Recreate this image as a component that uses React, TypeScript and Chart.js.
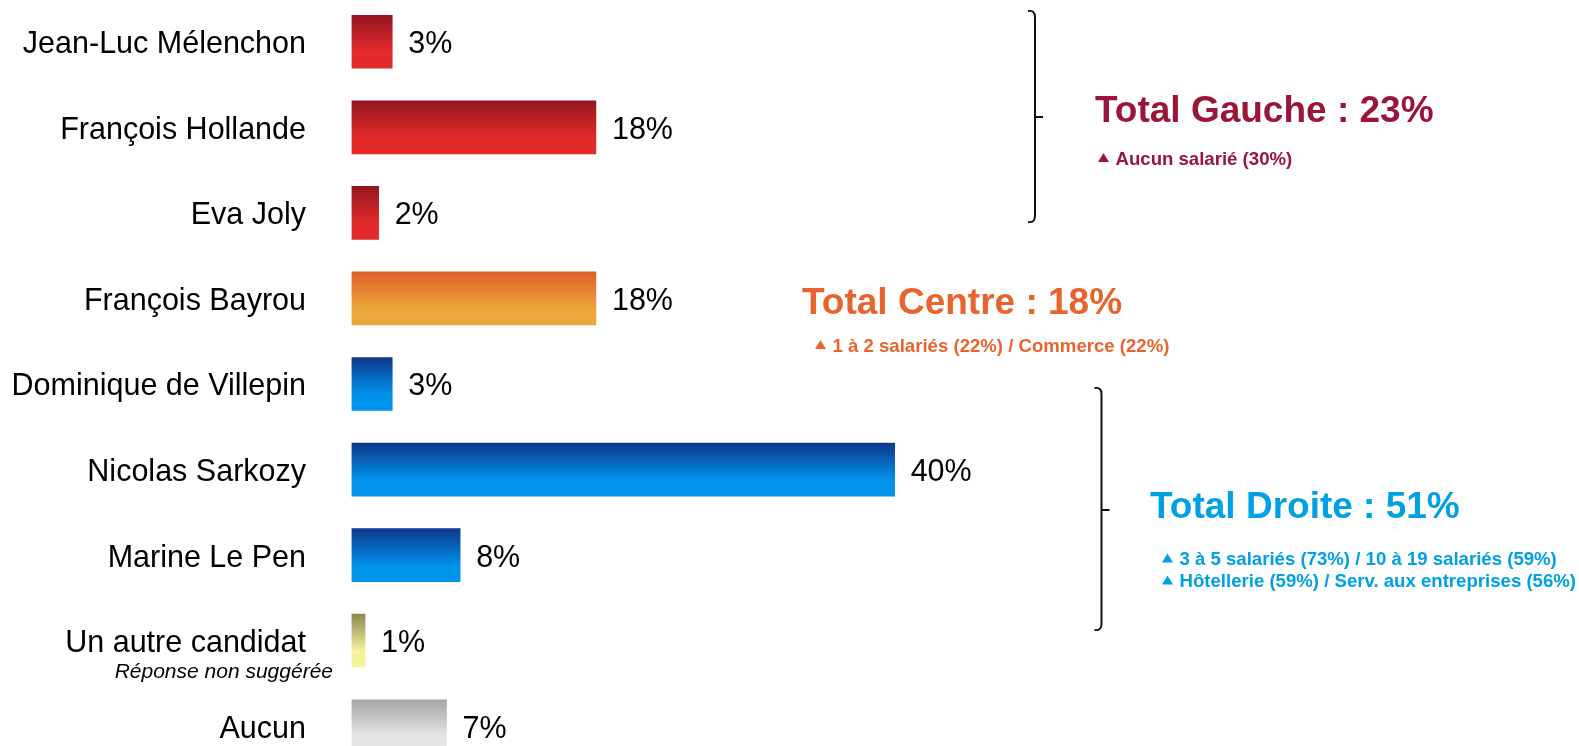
import React, { useEffect, useRef } from "react";
import { Chart, registerables } from "chart.js";

Chart.register(...registerables);

const categories = [
  "Jean-Luc Mélenchon",
  "François Hollande",
  "Eva Joly",
  "François Bayrou",
  "Dominique de Villepin",
  "Nicolas Sarkozy",
  "Marine Le Pen",
  "Un autre candidat",
  "Aucun",
];
const subLabels = ["", "", "", "", "", "", "", "Réponse non suggérée", ""];
const values = [3, 18, 2, 18, 3, 40, 8, 1, 7];
const families = ["gauche", "gauche", "gauche", "centre", "droite", "droite", "droite", "autre", "aucun"];

const familyGradients: Record<string, [string, string]> = {
  gauche: ["#93161f", "#e32b2c"],
  centre: ["#df5f29", "#eba63c"],
  droite: ["#0d378a", "#0093ec"],
  autre: ["#8c874f", "#f4f39c"],
  aucun: ["#a6a6a6", "#e6e6e6"],
};

const totalsTitles = ["Total Gauche : 23%", "Total Centre : 18%", "Total Droite : 51%"];
const totalsColors = ["#9a1538", "#e8642c", "#00a0e4"];
const totalsDetails = [
  ["Aucun salarié (30%)"],
  ["1 à 2 salariés (22%) / Commerce (22%)"],
  ["3 à 5 salariés (73%) / 10 à 19 salariés (59%)", "Hôtellerie (59%) / Serv. aux entreprises (56%)"],
];

const FONT = "'Liberation Sans', Arial, Helvetica, sans-serif";

function triangle(ctx: CanvasRenderingContext2D, x: number, yMid: number, color: string) {
  ctx.fillStyle = color;
  ctx.beginPath();
  ctx.moveTo(x, yMid + 4.5);
  ctx.lineTo(x + 11, yMid + 4.5);
  ctx.lineTo(x + 5.5, yMid - 4.5);
  ctx.closePath();
  ctx.fill();
}

function brace(ctx: CanvasRenderingContext2D, x: number, top: number, mid: number, bottom: number) {
  ctx.strokeStyle = "#111";
  ctx.lineWidth = 2;
  ctx.beginPath();
  ctx.moveTo(x - 7, top);
  ctx.quadraticCurveTo(x, top - 1, x, top + 6);
  ctx.lineTo(x, bottom - 6);
  ctx.quadraticCurveTo(x, bottom + 1, x - 7, bottom);
  ctx.moveTo(x, mid);
  ctx.lineTo(x + 8, mid);
  ctx.stroke();
}

const labelsPlugin = {
  id: "labelsPlugin",
  afterDatasetsDraw(chart: any) {
    const ctx: CanvasRenderingContext2D = chart.ctx;
    const xs = chart.scales.x;
    const ys = chart.scales.y;
    ctx.save();
    ctx.textBaseline = "middle";
    categories.forEach((cat, i) => {
      const y = ys.getPixelForValue(i);
      ctx.fillStyle = "#000";
      ctx.font = `30.5px ${FONT}`;
      ctx.textAlign = "right";
      ctx.fillText(cat, 306, y + 3);
      if (subLabels[i]) {
        ctx.font = `italic 21px ${FONT}`;
        ctx.fillText(subLabels[i], 333, y + 31.5);
      }
      ctx.textAlign = "left";
      ctx.font = `30.5px ${FONT}`;
      ctx.fillText(`${values[i]}%`, xs.getPixelForValue(values[i]) + 16, y + 3);
    });

    brace(ctx, 1035, 12, 118, 223);
    brace(ctx, 1101.5, 389, 511, 631);

    const titlePos = [
      [1095, 112.5],
      [802, 304.5],
      [1150, 509],
    ];
    const detailPos = [
      [1098, 160.5],
      [815, 347.5],
      [1162, 561],
    ];
    totalsTitles.forEach((t, k) => {
      ctx.fillStyle = totalsColors[k];
      ctx.textAlign = "left";
      ctx.font = `bold 37px ${FONT}`;
      ctx.fillText(t, titlePos[k][0], titlePos[k][1]);
      ctx.font = `bold 18.6px ${FONT}`;
      totalsDetails[k].forEach((d, j) => {
        const yy = detailPos[k][1] + j * 22;
        triangle(ctx, detailPos[k][0], yy - 2, totalsColors[k]);
        ctx.fillStyle = totalsColors[k];
        ctx.fillText(d, detailPos[k][0] + 17.5, yy);
      });
    });
    ctx.restore();
  },
};

export default function App() {
  const ref = useRef<HTMLCanvasElement | null>(null);
  useEffect(() => {
    if (!ref.current) return;
    const chart = new Chart(ref.current, {
      type: "bar",
      data: {
        labels: categories,
        datasets: [
          {
            data: values,
            barThickness: 53,
            borderWidth: 0,
            backgroundColor: (c: any) => {
              const chart = c.chart;
              const fam = families[c.dataIndex] || "gauche";
              const [top, bottom] = familyGradients[fam];
              const ys = chart.scales?.y;
              if (!ys || !chart.chartArea || c.dataIndex === undefined) return bottom;
              const yc = ys.getPixelForValue(c.dataIndex);
              if (!Number.isFinite(yc)) return bottom;
              const g = chart.ctx.createLinearGradient(0, yc - 26.5, 0, yc + 26.5);
              g.addColorStop(0, top);
              g.addColorStop(0.7, bottom);
              g.addColorStop(1, bottom);
              return g;
            },
          },
        ],
      },
      options: {
        indexAxis: "y",
        responsive: false,
        animation: false,
        devicePixelRatio: 1,
        layout: { padding: { left: 351.5, right: 0, top: 0, bottom: 0 } },
        plugins: { legend: { display: false }, tooltip: { enabled: false } },
        scales: {
          x: { display: false, min: 0, max: 90.4 },
          y: { display: false },
        },
      },
      plugins: [labelsPlugin],
    } as any);
    return () => chart.destroy();
  }, []);
  return (
    <div
      style={{
        position: "fixed",
        left: 0,
        top: 0,
        width: 1579,
        height: 746,
        overflow: "hidden",
        background: "#fff",
      }}
    >
      <canvas
        ref={ref}
        width={1579}
        height={770}
        style={{ position: "absolute", left: 0, top: -1, width: 1579, height: 770 }}
      />
    </div>
  );
}
